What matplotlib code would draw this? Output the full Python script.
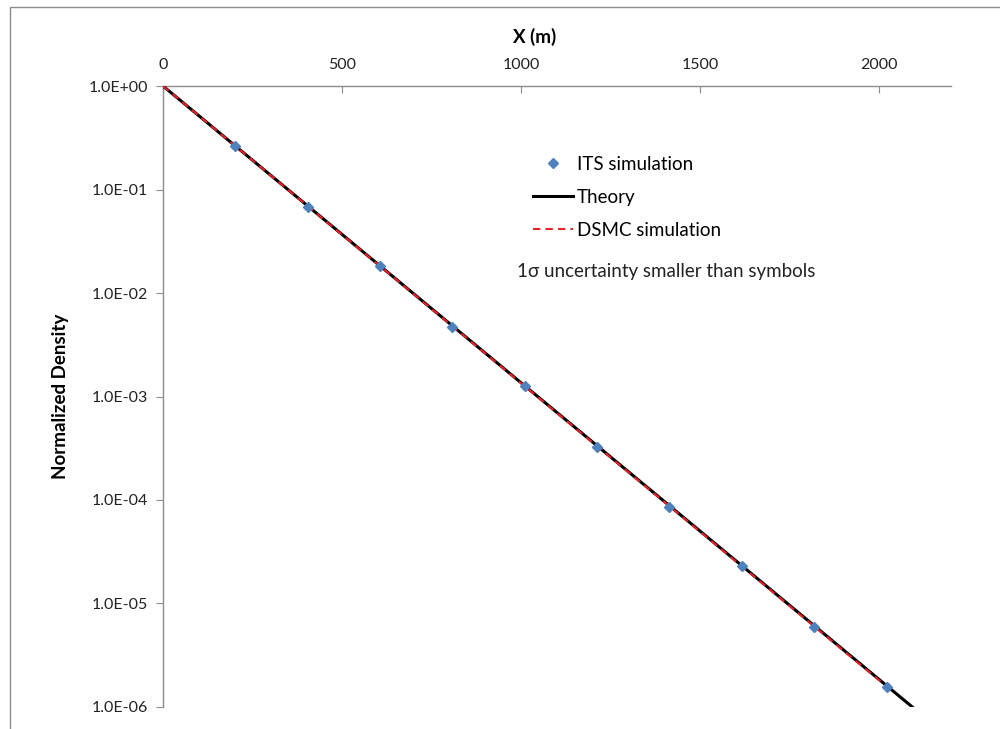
import matplotlib
matplotlib.use('Agg')
import matplotlib.pyplot as plt
from matplotlib.ticker import FuncFormatter, FixedLocator
from matplotlib.patches import Rectangle

plt.rcParams['font.family'] = ['Lato', 'DejaVu Sans']

# ITS simulation points
its_x = [202, 404, 606, 808, 1010, 1212, 1414, 1616, 1818, 2020]
its_y = [0.263, 0.0678, 0.0182, 0.0047, 0.00126, 3.24e-4, 8.5e-5, 2.3e-5, 5.9e-6, 1.56e-6]
# theory and DSMC lines (straight on log scale)
theory_x = [0, 2092]
theory_y = [1.0, 1.0e-6]
dsmc_x = [0, 2030]
dsmc_y = [1.0, 1.48e-6]

x_ticks = [0, 500, 1000, 1500, 2000]
y_ticks = [1e0, 1e-1, 1e-2, 1e-3, 1e-4, 1e-5, 1e-6]

fig = plt.figure(figsize=(10, 7.29), dpi=100)
# outer chart frame
fig.patches.append(Rectangle((0.010, -0.1), 1.2, 0.1 + 0.9904, transform=fig.transFigure,
                             fill=False, edgecolor='#8c8c8c', linewidth=1.0))
ax = fig.add_axes([0.163, 0.0302, 0.788, 0.8518])

ax.plot(theory_x, theory_y, color='black', lw=2.2, label='Theory', zorder=3)
ax.plot(dsmc_x, dsmc_y, color='#e8202a', lw=1.5, ls=(0, (3.5, 2.5)), label='DSMC simulation', zorder=4)
ax.plot(its_x, its_y, ls='none', marker='D', ms=5.5, color='#4f81bd', label='ITS simulation', zorder=5)

ax.set_yscale('log')
ax.set_xlim(0, 2200)
ax.set_ylim(1e-6, 1)
ax.yaxis.set_major_locator(FixedLocator(y_ticks))
ax.yaxis.set_minor_locator(FixedLocator([]))
ax.yaxis.set_major_formatter(FuncFormatter(lambda v, p: '%.1E' % v))
ax.set_xticks(x_ticks)

ax.xaxis.tick_top()
ax.xaxis.set_label_position('top')
for s in ['right', 'bottom']:
    ax.spines[s].set_visible(False)
for s in ['top', 'left']:
    ax.spines[s].set_color('#8c8c8c')
    ax.spines[s].set_linewidth(1.0)
ax.tick_params(axis='x', direction='in', length=5, color='#8c8c8c', labelsize=11.5, pad=10, labelcolor='#222222')
ax.tick_params(axis='y', direction='out', length=5, color='#8c8c8c', labelsize=11.5, pad=6, labelcolor='#222222')

ax.set_xlabel('X (m)', fontsize=13.5, fontweight='bold')
ax.xaxis.set_label_coords(0.472, 1.0 + 43 / 621)
ax.set_ylabel('Normalized Density', fontsize=13.5, fontweight='bold')
ax.yaxis.set_label_coords(-94 / 788, 0.5)

handles, labels = ax.get_legend_handles_labels()
order = [2, 0, 1]
ax.legend([handles[i] for i in order], [labels[i] for i in order], loc='upper left',
          bbox_to_anchor=(0.533, 0.786), bbox_transform=fig.transFigure, frameon=False,
          fontsize=13.5, handlelength=2.15, handletextpad=0.2, labelspacing=0.85,
          borderpad=0, borderaxespad=0)
fig.text(0.517, (729 - 272) / 729, '1\u03c3 uncertainty smaller than symbols', fontsize=13.5,
         color='#222222', va='center')

fig.savefig('out.png', dpi=100)
